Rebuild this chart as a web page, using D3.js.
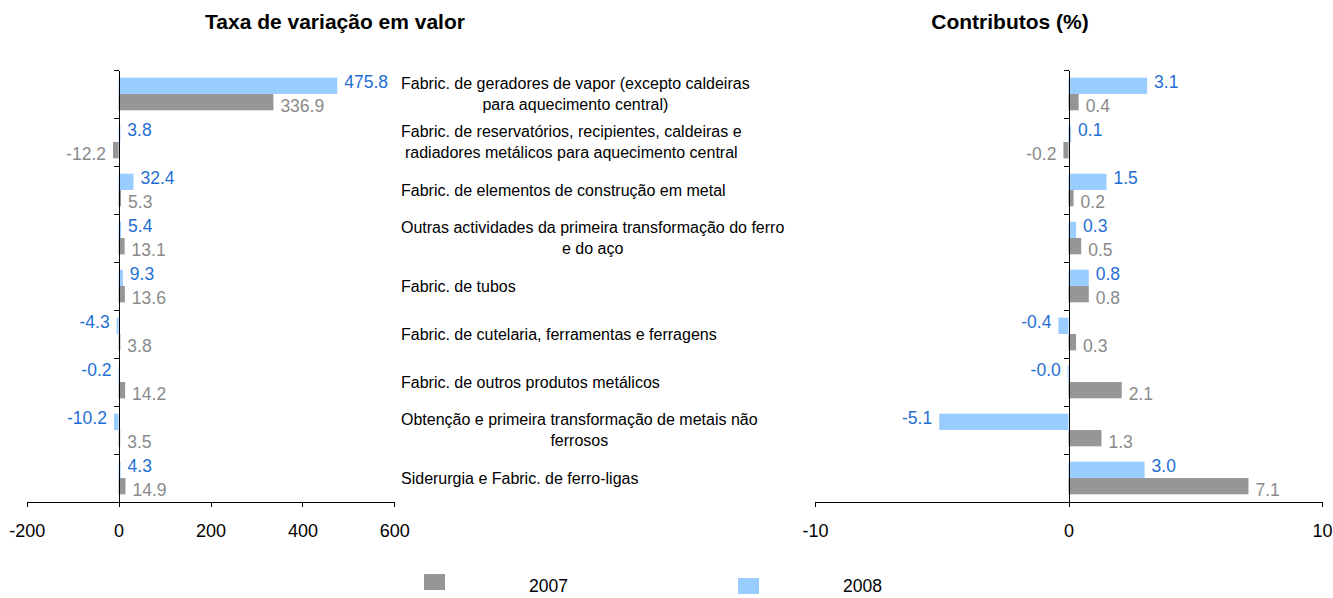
<!DOCTYPE html>
<html>
<head>
<meta charset="utf-8">
<script src="https://cdn.jsdelivr.net/npm/d3@7"></script>
<style>
  body { margin: 0; background: #fff; }
  svg { font-family: 'Liberation Sans', Arial, sans-serif; }
  .axis path, .axis line { stroke: #000; shape-rendering: crispEdges; }
  .axis text { font-size: 18px; fill: #000; }
</style>
</head>
<body>
<script>
const categories = [
  ['Fabric. de geradores de vapor (excepto caldeiras', 'para aquecimento central)'],
  ['Fabric. de reservatórios, recipientes, caldeiras e', 'radiadores metálicos para aquecimento central'],
  ['Fabric. de elementos de construção em metal'],
  ['Outras actividades da primeira transformação do ferro', 'e do aço'],
  ['Fabric. de tubos'],
  ['Fabric. de cutelaria, ferramentas e ferragens'],
  ['Fabric. de outros produtos metálicos'],
  ['Obtenção e primeira transformação de metais não', 'ferrosos'],
  ['Siderurgia e Fabric. de ferro-ligas']
];
const years = ['2007', '2008'];

// taxa de variação em valor
const taxa2007 = [336.9, -12.2, 5.3, 13.1, 13.6, 3.8, 14.2, 3.5, 14.9];
const taxa2008 = [475.8, 3.8, 32.4, 5.4, 9.3, -4.3, -0.2, -10.2, 4.3];
const taxaTicks = [-200, 0, 200, 400, 600];

// contributos (%)
const contrib2007 = [0.4, -0.2, 0.2, 0.5, 0.8, 0.3, 2.1, 1.3, 7.1];
const contrib2008 = [3.1, 0.1, 1.5, 0.3, 0.8, -0.4, -0.03, -5.1, 3.0];
const contribTicks = [-10, 0, 10];

(function (d3) {
  'use strict'
  const w = 1333
  const h = 598
  const top = 70
  const bottom = 502

  const colors = { '2007': '#969696', '2008': '#99ccff' }
  const labelColors = { '2007': '#8a8a8a', '2008': '#1f6fd2' }
  // keep the sign on -0.0, like the original labels
  const fmt = d => (d < 0 ? '-' : '') + Math.abs(d).toFixed(1)

  const svg = d3.select('body').append('svg')
    .attr('width', w)
    .attr('height', h)

  const y = d3.scaleBand()
    .domain(d3.range(categories.length))
    .range([top, bottom])
    .paddingInner(0.32)
    .paddingOuter(0.16)

  const sub = d3.scaleBand()
    .domain(['2008', '2007'])
    .range([0, y.bandwidth()])

  const yTicks = d3.scaleLinear()
    .domain([0, categories.length])
    .range([top, bottom])

  function panel (title, titleX, range, ticks, s2007, s2008) {
    const x = d3.scaleLinear()
      .domain(d3.extent(ticks))
      .range(range)

    const g = svg.append('g')

    g.append('text')
      .attr('x', titleX)
      .attr('y', 29)
      .attr('text-anchor', 'middle')
      .style('font-size', '21px')
      .style('font-weight', 'bold')
      .text(title)

    const series = [
      { year: '2008', values: s2008 },
      { year: '2007', values: s2007 }
    ]

    series.forEach(function (s) {
      g.append('g').selectAll('rect')
        .data(s.values)
        .enter().append('rect')
        .attr('x', d => x(Math.min(0, d)))
        .attr('width', d => Math.max(1, Math.abs(x(d) - x(0))))
        .attr('y', (d, i) => y(i) + sub(s.year))
        .attr('height', sub.bandwidth())
        .attr('fill', colors[s.year])

      g.append('g').selectAll('text')
        .data(s.values)
        .enter().append('text')
        .attr('x', d => d >= 0 ? x(d) + 7 : x(d) - 7)
        .attr('y', (d, i) => y(i) + sub(s.year) + sub.bandwidth() / 2 + (s.year === '2008' ? -4 : 4))
        .attr('dy', '0.35em')
        .attr('text-anchor', d => d >= 0 ? 'start' : 'end')
        .style('font-size', '17.5px')
        .attr('fill', labelColors[s.year])
        .text(d => fmt(d))
    })

    g.append('g')
      .attr('class', 'axis')
      .attr('transform', 'translate(0,' + bottom + ')')
      .call(d3.axisBottom(x).tickValues(ticks).tickFormat(d => String(d))
        .tickSize(5).tickSizeOuter(0).tickPadding(17))

    g.append('g')
      .attr('class', 'axis')
      .attr('transform', 'translate(' + x(0) + ',0)')
      .call(d3.axisLeft(yTicks).tickValues(d3.range(categories.length + 1))
        .tickSize(5).tickSizeOuter(0).tickFormat(''))
  }

  panel('Taxa de variação em valor', 335, [26.7, 394.3], taxaTicks, taxa2007, taxa2008)
  panel('Contributos (%)', 1010, [815, 1322], contribTicks, contrib2007, contrib2008)

  // category names between the two panels
  const names = svg.append('g')
    .style('font-size', '16px')
  categories.forEach(function (lines, i) {
    const t = names.append('text')
      .attr('y', y(i) + y.bandwidth() / 2 + (lines.length > 1 ? -5 : 6))
    lines.forEach(function (line, j) {
      t.append('tspan')
        .attr('dy', j === 0 ? 0 : 20.5)
        .text(line)
    })
    let maxW = 0
    t.selectAll('tspan').each(function () {
      maxW = Math.max(maxW, this.getComputedTextLength())
    })
    t.attr('text-anchor', 'middle')
    t.selectAll('tspan').attr('x', 401 + maxW / 2)
  })

  // legend
  const legend = svg.append('g')
  const legendX = { '2007': 424, '2008': 738 }
  years.forEach(function (yr) {
    legend.append('rect')
      .attr('x', legendX[yr])
      .attr('y', yr === '2007' ? 574 : 578)
      .attr('width', 21)
      .attr('height', 16)
      .attr('fill', colors[yr])
    legend.append('text')
      .attr('x', legendX[yr] + 105)
      .attr('y', 592)
      .style('font-size', '17.5px')
      .text(yr)
  })

}(d3))
</script>
</body>
</html>
